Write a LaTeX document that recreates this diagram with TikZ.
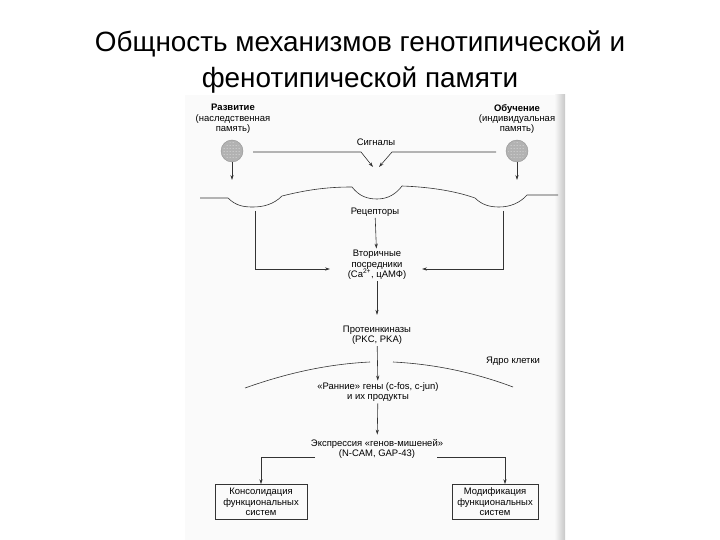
\documentclass[tikz,border=0pt]{standalone}
\usepackage{fontspec}
\setmainfont{Liberation Sans}
\usetikzlibrary{arrows.meta, patterns}

\begin{document}
\begin{tikzpicture}[x=1bp,y=-1bp,>={Stealth[length=5bp,width=3.2bp]},
      every node/.style={font=\fontsize{9.5}{10.5}\selectfont,align=center,inner sep=1.5bp},
      title/.style={font=\fontsize{28}{36}\selectfont},
      line/.style={draw=black!80,line width=0.6bp},
      box/.style={draw=black!80,line width=0.6bp,minimum height=35bp},
      cell/.style={circle,draw=gray!85,fill=gray!60,minimum size=22bp,inner sep=0pt}]
      \useasboundingbox (0,0) rectangle (720,540);
      % scanned page
      \fill[black!2] (185,95) rectangle (555,540);
      \shade[left color=black!3,right color=black!22] (555,95) rectangle (565,540);
      \node[title] (title) at (360,62) {Общность механизмов генотипической и\\фенотипической памяти};
      % sources of memory
      \node (dev) at (233,119) {\textbf{Развитие}\\(наследственная\\память)};
      \node (learn) at (517,119) {\textbf{Обучение}\\(индивидуальная\\память)};
      \node[cell] (cellL) at (232,151) {};
      \node[cell] (cellR) at (517,151) {};
      \fill[pattern=dots,pattern color=gray!25] (cellL) circle (9bp) (cellR) circle (9bp);
      \coordinate (memL) at (232,180);
      \coordinate (memR) at (517,180);
      \draw[line,->] (cellL) -- (memL);
      \draw[line,->] (cellR) -- (memR);
      % signals
      \node (sig) at (376,142) {Сигналы};
      \coordinate (sigL) at (253,152);
      \coordinate (sigR) at (496,152);
      \coordinate (sigT) at (376,167);
      \draw[line,->] (sigL) -- +(108,0) -- ([xshift=-3bp]sigT);
      \draw[line,->] (sigR) -- +(-104,0) -- ([xshift=3bp]sigT);
      % membrane
      \draw[line] (200,198) -- (228,198) .. controls (236,206) and (244,207) .. (253,207)
        .. controls (264,207) and (274,204) .. (282,196) .. controls (310,189) and (330,187) .. (352,187)
        .. controls (359,196) and (367,199) .. (377,199) .. controls (388,199) and (396,194) .. (402,186)
        .. controls (430,187) and (455,191) .. (475,198) .. controls (482,205) and (490,207) .. (499,207)
        .. controls (510,207) and (520,203) .. (527,195) -- (558,195);
      \node (rec) at (375,212) {Рецепторы};
      \node (sec) at (377,265) {Вторичные\\посредники\\(Ca\textsuperscript{2+}, цАМФ)};
      \coordinate (recL) at (255,211);
      \coordinate (recR) at (503,211);
      \coordinate (secL) at (330,269);
      \coordinate (secR) at (422,269);
      \draw[line,->] (rec) -- (sec);
      \draw[line,->] (recL) |- (secL);
      \draw[line,->] (recR) |- (secR);
      \node (pk) at (377,335) {Протеинкиназы\\(PKC, PKA)};
      \draw[line,->,shorten >=9bp] (sec) -- (pk);
      % nucleus
      \node (nuc) at (513,361) {Ядро клетки};
      \draw[line] (245,388) .. controls (290,372) and (330,364) .. (370,362);
      \draw[line] (393,362) .. controls (433,364) and (473,372) .. (513,387);
      \node (early) at (378,392) {«Ранние» гены (c-fos, c-jun)\\и их продукты};
      \draw[line,->] (pk) -- (early);
      \node (expr) at (377,449) {Экспрессия «генов-мишеней»\\(N-CAM, GAP-43)};
      \draw[line,->,shorten >=3bp] (early) -- (expr);
      % outcomes
      \node[box,minimum width=92bp] (cons) at (261,502) {Консолидация\\функциональных\\систем};
      \node[box,minimum width=86bp] (mod) at (495,502) {Модификация\\функциональных\\систем};
      \coordinate (brL) at (315,457);
      \coordinate (brR) at (437,457);
      \draw[line,->] (brL) -| (cons.north);
      \draw[line,->] (brR) -| ([xshift=10bp]mod.north);
    \end{tikzpicture}
\end{document}
